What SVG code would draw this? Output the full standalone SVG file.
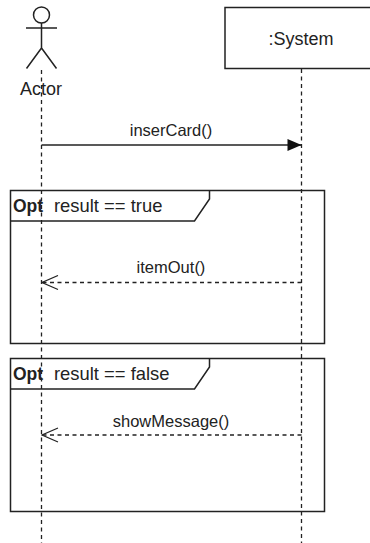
<svg xmlns="http://www.w3.org/2000/svg" width="370" height="543" viewBox="0 0 370 543">
<style>
text{font-family:"Liberation Sans",Arial,sans-serif;font-size:18px;fill:#222}
.l{font-size:16.500px}
.r{font-size:18.400px}
.m{text-anchor:middle}
.s{fill:none;stroke:#222;stroke-width:1.500}
.d{fill:none;stroke:#222;stroke-width:1.300;stroke-dasharray:4 3.500}
</style>
<defs>
<marker id="fill" markerUnits="userSpaceOnUse" markerWidth="16" markerHeight="14" refX="15" refY="7" orient="auto"><path d="M1 1L15 7L1 13Z" fill="#111"/></marker>
<marker id="open" markerUnits="userSpaceOnUse" markerWidth="18" markerHeight="16" refX="17" refY="8" orient="auto"><path d="M1 1L17 8L1 15" fill="none" stroke="#222" stroke-width="1.200"/></marker>
</defs>
<rect width="370" height="543" fill="#fff"/>
<g id="connectors">
<path class="d" d="M41.500 70V543"/>
<path class="d" d="M301.500 69V543"/>
<path class="s" d="M41.500 145H301.500" marker-end="url(#fill)"/>
<path class="d" d="M301.500 282.500H42" marker-end="url(#open)"/>
<path class="d" d="M301.500 435H42" marker-end="url(#open)"/>
</g>
<g id="actor">
<circle class="s" cx="41.500" cy="15" r="8"/>
<path class="s" d="M41.500 23V48M26 28H57M41.500 48L26.500 68.500M41.500 48L56.500 68.500"/>
<text class="m" x="41" y="95">Actor</text>
</g>
<g id="system">
<rect class="s" x="225" y="7.500" width="146" height="61"/>
<text class="m" x="301" y="45">:System</text>
</g>
<g id="opt-true">
<rect class="s" x="10.500" y="190.500" width="314" height="153"/>
<path class="s" d="M10.500 221H194.500L209.500 199V190.500"/>
<text x="13" y="212" style="font-weight:bold;font-size:17.500px">Opt</text>
<text class="r" x="54" y="212">result == true</text>
</g>
<g id="opt-false">
<rect class="s" x="10.500" y="358.500" width="314" height="153"/>
<path class="s" d="M10.500 389H194.500L209.500 367V358.500"/>
<text x="13" y="380" style="font-weight:bold;font-size:17.500px">Opt</text>
<text class="r" x="54" y="380">result == false</text>
</g>
<g id="labels">
<text class="m l" x="171" y="136">inserCard()</text>
<text class="m l" x="171" y="273">itemOut()</text>
<text class="m l" x="171" y="427">showMessage()</text>
</g>
</svg>
